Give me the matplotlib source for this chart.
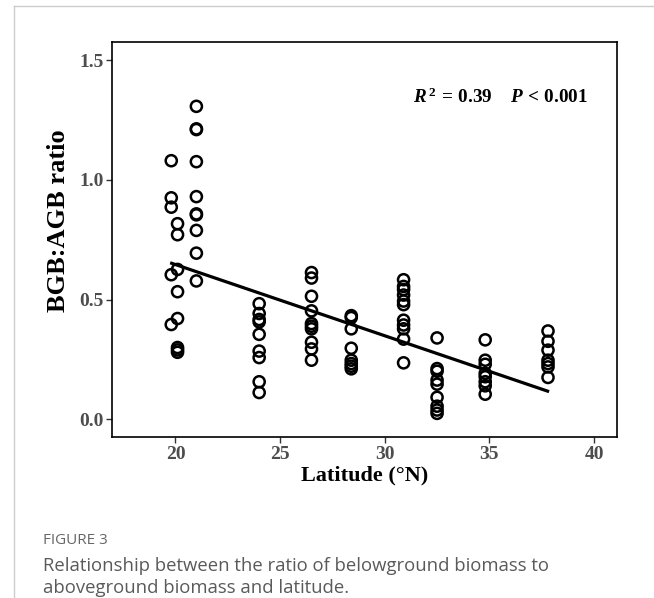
import matplotlib.pyplot as plt
import numpy as np

# latitude of each sampling site (degrees N) and BGB:AGB ratios measured there
site_lat = [19.8, 20.1, 21.0, 24.0, 26.5, 28.4, 30.9, 32.5, 34.8, 37.8]
site_ratio = [
    [1.080, 0.925, 0.886, 0.604, 0.396],
    [0.817, 0.771, 0.626, 0.533, 0.421, 0.300, 0.290, 0.280],
    [1.307, 1.213, 1.210, 1.076, 0.930, 0.858, 0.854, 0.789, 0.694, 0.578],
    [0.483, 0.442, 0.417, 0.407, 0.355, 0.285, 0.258, 0.157, 0.112],
    [0.613, 0.590, 0.514, 0.453, 0.400, 0.389, 0.378, 0.322, 0.294, 0.247],
    [0.433, 0.425, 0.378, 0.297, 0.247, 0.233, 0.222, 0.211],
    [0.583, 0.555, 0.542, 0.519, 0.494, 0.479, 0.414, 0.394, 0.378, 0.335, 0.236],
    [0.340, 0.212, 0.201, 0.164, 0.147, 0.092, 0.055, 0.039, 0.025],
    [0.332, 0.247, 0.230, 0.192, 0.178, 0.157, 0.140, 0.105],
    [0.369, 0.326, 0.289, 0.247, 0.233, 0.219, 0.175],
]

# fitted line
fit_intercept = 1.241
fit_slope = -0.02973
fit_range = [19.82, 37.78]

x_ticks = [20, 25, 30, 35, 40]
y_ticks = [0.0, 0.5, 1.0, 1.5]

lat = np.concatenate([[la] * len(r) for la, r in zip(site_lat, site_ratio)])
ratio = np.concatenate(site_ratio)

plt.rcParams['mathtext.fontset'] = 'custom'
plt.rcParams['mathtext.rm'] = 'Liberation Serif:bold'
plt.rcParams['mathtext.it'] = 'Liberation Serif:italic:bold'
plt.rcParams['mathtext.bf'] = 'Liberation Serif:bold'

fig = plt.figure(figsize=(6.54, 5.98), dpi=100)
ax = fig.add_axes([0.1713, 0.2687, 0.7716, 0.6616])

serif = 'Liberation Serif'
ax.scatter(lat, ratio, s=64, facecolors='none', edgecolors='black', linewidths=1.8, zorder=3)
xs = np.array(fit_range)
ax.plot(xs, fit_intercept + fit_slope * xs, color='black', lw=2.3, zorder=2)

ax.set_xlim(16.97, 41.08)
ax.set_ylim(-0.075, 1.577)
ax.set_xticks(x_ticks)
ax.set_yticks(y_ticks)
ax.set_xticklabels([str(t) for t in x_ticks])
ax.set_yticklabels([f'{t:.1f}' for t in y_ticks])
for lab in ax.get_xticklabels() + ax.get_yticklabels():
    lab.set_fontfamily(serif)
    lab.set_fontweight('bold')
    lab.set_fontsize(14)
    lab.set_color('#4d4d4d')
ax.tick_params(direction='out', length=4, width=1, color='#333333', pad=2)
for sp in ax.spines.values():
    sp.set_linewidth(1.2)
    sp.set_color('black')

ax.set_xlabel('Latitude (°N)', fontfamily=serif, fontweight='bold', fontsize=16, labelpad=2)
ax.set_ylabel('BGB:AGB ratio', fontfamily=serif, fontweight='bold', fontsize=19)
ax.yaxis.set_label_coords(-0.083, 0.548)

ax.text(0.943, 0.86, r'$R^{\,2}\,=\,\mathrm{0.39}\quad\;P\,<\,\mathrm{0.001}$', transform=ax.transAxes,
        ha='right', va='center', fontsize=13.8)

# caption and page frame
fig.text(43 / 654, 1 - 540 / 598, 'FIGURE 3', fontfamily='Open Sans', fontsize=11,
         color='#666666', va='center')
fig.text(43 / 654, 1 - 577 / 598,
         'Relationship between the ratio of belowground biomass to\naboveground biomass and latitude.',
         fontfamily='Open Sans', fontsize=13.3, color='#5a5a5a', va='center', linespacing=1.34)
fig.add_artist(plt.Line2D([14 / 654, 14 / 654], [0, 1 - 6 / 598], color='#cccccc', lw=1))
fig.add_artist(plt.Line2D([14 / 654, 1], [1 - 6 / 598, 1 - 6 / 598], color='#cccccc', lw=1))

fig.savefig('out.png', dpi=100)
